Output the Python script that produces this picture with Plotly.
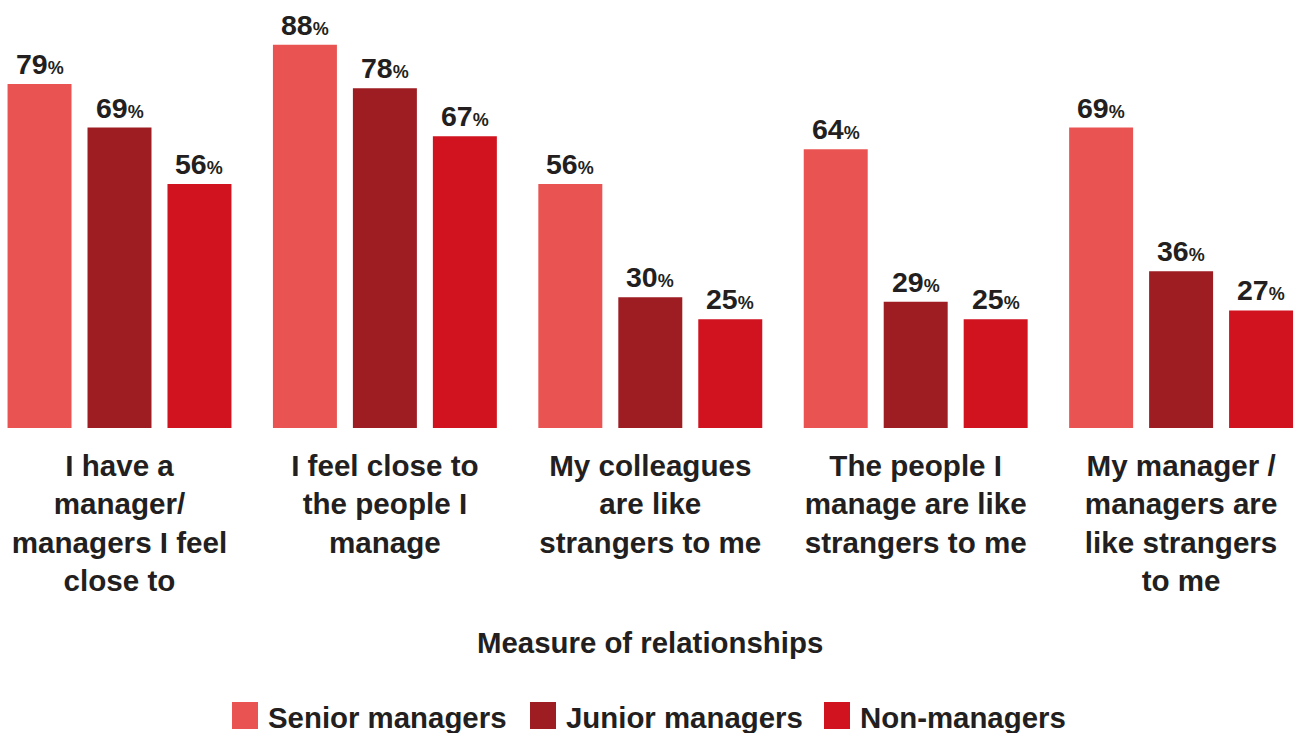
import plotly.graph_objects as go

# Survey results: share of respondents agreeing with each statement
categories = [
    "I have a<br>manager/<br>managers I feel<br>close to",
    "I feel close to<br>the people I<br>manage",
    "My colleagues<br>are like<br>strangers to me",
    "The people I<br>manage are like<br>strangers to me",
    "My manager /<br>managers are<br>like strangers<br>to me",
]
series_names = ["Senior managers", "Junior managers", "Non-managers"]
senior = [79, 88, 56, 64, 69]
junior = [69, 78, 30, 29, 36]
non_managers = [56, 67, 25, 25, 27]
series_values = [senior, junior, non_managers]
colors = ["#E95452", "#9D1D22", "#D1131F"]

FONT = "Liberation Sans, Arial, Helvetica, sans-serif"
TEXT = "#231F20"

W, H = 1294, 733
plot_bottom = 428          # px from top where the bars stand
bargap, bargroupgap = 0.096, 0.2

fig = go.Figure()
x_idx = list(range(len(categories)))
for name, vals, col in zip(series_names, series_values, colors):
    fig.add_trace(go.Bar(
        x=x_idx, y=vals, name=name, marker=dict(color=col, line=dict(width=0)),
        showlegend=False, hoverinfo="skip",
    ))

# value labels above each bar, centred on the bar's slot in the group
n = len(series_names)
slot = (1 - bargap) / n
annotations = []
for s, vals in enumerate(series_values):
    off = (s - (n - 1) / 2) * slot
    for i, v in enumerate(vals):
        annotations.append(dict(
            x=i + off, y=v, xref="x", yref="y",
            text=f"{v}<span style='font-size:18px'>%</span>",
            showarrow=False, yanchor="bottom", yshift=2,
            font=dict(family=FONT, size=28.5, color=TEXT, weight="bold"),
        ))

# legend drawn as swatches + labels underneath the chart
def ypaper(py):
    return (plot_bottom - py) / plot_bottom

legend_x = [232, 530, 824]
shapes = []
for lx, name, col in zip(legend_x, series_names, colors):
    shapes.append(dict(
        type="rect", xref="paper", yref="paper",
        x0=lx / W, x1=(lx + 26) / W, y0=ypaper(729), y1=ypaper(702),
        fillcolor=col, line=dict(width=0),
    ))
    annotations.append(dict(
        x=(lx + 34) / W, y=ypaper(717), xref="paper", yref="paper",
        text=name, showarrow=False, xanchor="left", yanchor="middle",
        font=dict(family=FONT, size=29.4, color=TEXT, weight="bold"),
    ))

annotations.append(dict(
    x=(650) / W, y=ypaper(642), xref="paper", yref="paper",
    text="Measure of relationships", showarrow=False,
    xanchor="center", yanchor="middle",
    font=dict(family=FONT, size=29.4, color=TEXT, weight="bold"),
))

px_per_cat = 265.4
x0 = -119.5 / px_per_cat
fig.update_layout(
    width=W, height=H,
    margin=dict(l=0, r=0, t=0, b=H - plot_bottom, autoexpand=False),
    paper_bgcolor="white", plot_bgcolor="white",
    barmode="group", bargap=bargap, bargroupgap=bargroupgap,
    annotations=annotations, shapes=shapes,
    xaxis=dict(
        range=[x0, x0 + W / px_per_cat],
        tickmode="array", tickvals=x_idx, ticktext=categories,
        tickfont=dict(family=FONT, size=29.6, color=TEXT, weight="bold"),
        showgrid=False, zeroline=False, showline=False, ticks="",
        ticklabelstandoff=17, automargin=False, fixedrange=True,
    ),
    yaxis=dict(
        range=[0, plot_bottom / 4.355], visible=False, showgrid=False,
        zeroline=False, fixedrange=True,
    ),
)

fig.write_html("out.html", config={"displayModeBar": False})
